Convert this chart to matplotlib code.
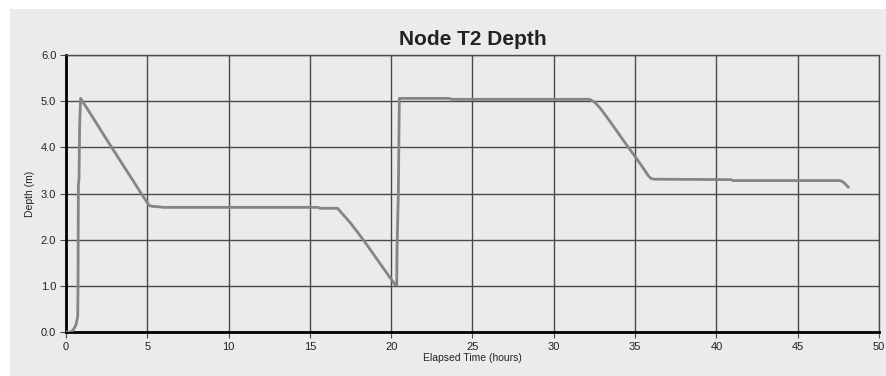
import matplotlib
matplotlib.use("Agg")
import matplotlib.pyplot as plt
from matplotlib.patches import Rectangle

# Data (hours, depth m)
time_h = [0, 0.3, 0.45, 0.61, 0.7, 0.72, 0.74, 0.76, 0.8, 0.84, 0.9,
          1.5, 2.5, 3.5, 4.5, 5.0, 5.12, 5.3, 5.5, 6.0,
          15.5, 15.6, 16.7, 17.0, 17.5, 18.0, 18.5, 19.0, 19.5, 20.25,
          20.34, 20.36, 20.44, 20.5,
          23.6, 23.7, 32.2, 32.5, 32.8, 33.0, 33.5, 34.0, 34.5, 35.0, 35.5, 35.8, 36.0, 36.2,
          40.9, 41.0, 47.6, 47.8, 48.1]
depth_m = [0.0, 0.0, 0.05, 0.15, 0.3, 0.35, 1.0, 3.2, 3.3, 4.5, 5.06,
           4.73, 4.17, 3.62, 3.07, 2.80, 2.74, 2.72, 2.72, 2.70,
           2.70, 2.68, 2.68, 2.56, 2.36, 2.13, 1.89, 1.64, 1.39, 1.02,
           1.02, 1.82, 3.0, 5.06,
           5.06, 5.04, 5.04, 4.98, 4.87, 4.78, 4.54, 4.29, 4.04, 3.80, 3.55, 3.39, 3.32, 3.31,
           3.30, 3.28, 3.28, 3.25, 3.14]

x_ticks = [0, 5, 10, 15, 20, 25, 30, 35, 40, 45, 50]
y_ticks = [0.0, 1.0, 2.0, 3.0, 4.0, 5.0, 6.0]

plt.rcParams['font.family'] = ['Liberation Sans', 'DejaVu Sans']

fig = plt.figure(figsize=(8.87, 3.76), dpi=100)
fig.patch.set_facecolor('white')
bg = Rectangle((10/887, 0), 1 - 10/887, 1 - 9/376, transform=fig.transFigure,
               facecolor='#ebebeb', edgecolor='none', zorder=-10)
fig.patches.append(bg)

ax = fig.add_axes([66/887, 44/376, 813/887, 277/376])
ax.set_facecolor('#ebebeb')

ax.plot(time_h, depth_m, color='#858585', linewidth=2.0, solid_joinstyle='round', zorder=3)

ax.set_xlim(0, 50)
ax.set_ylim(0, 6)
ax.set_xticks(x_ticks)
ax.set_yticks(y_ticks)
ax.set_yticklabels([f"{v:.1f}" for v in y_ticks])
ax.grid(True, color='#4a4a4a', linewidth=1.0, zorder=1)
ax.set_axisbelow(True)

for side in ['top', 'right']:
    ax.spines[side].set_color('#4a4a4a')
    ax.spines[side].set_linewidth(1.0)
for side in ['left', 'bottom']:
    ax.spines[side].set_color('black')
    ax.spines[side].set_linewidth(2.0)

ax.tick_params(axis='both', direction='out', length=4, width=0.8, color='#4a4a4a',
               labelsize=8, labelcolor='#222222', pad=3)

ax.set_title('Node T2 Depth', fontsize=15, fontweight='bold', color='#222222', pad=7)
ax.set_xlabel('Elapsed Time (hours)', fontsize=7.5, color='#222222', labelpad=1)
ax.set_ylabel('Depth (m)', fontsize=7.5, color='#222222', labelpad=4)

fig.savefig('out.png', dpi=100, facecolor=fig.get_facecolor())
